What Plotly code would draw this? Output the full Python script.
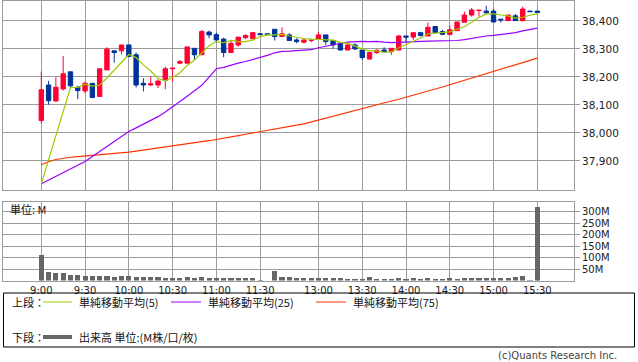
import plotly.graph_objects as go

# ---------------- data ----------------
tick_slots = [0, 6, 12, 18, 24, 30, 38, 44, 50, 56, 62, 68]
tick_labels = ["9:00", "9:30", "10:00", "10:30", "11:00", "11:30",
               "13:00", "13:30", "14:00", "14:30", "15:00", "15:30"]

slots = list(range(69))

opens = [38044, 38171, 38114, 38157, 38218, 38163, 38150, 38177, 38130, 38225,
         38293, 38293, 38314, 38279, 38177, 38171, 38171, 38188, 38229, 38249,
         38249, 38302, 38279, 38360, 38351, 38335, 38287, 38314, 38340, 38336,
         38354, 38354, 38370, 38344, 38350, 38332, 38324, 38330, 38335, 38350,
         38330, 38320, 38296, 38314, 38296, 38264, 38287, 38296, 38290, 38296,
         38346, 38342, 38358, 38346, 38380, 38362, 38351, 38365, 38395, 38421,
         38437, 38435, 38435, 38406, 38401, 38418, 38401, 38435, 38435]
highs = [38219, 38186, 38199, 38275, 38218, 38168, 38183, 38177, 38229, 38306,
         38293, 38314, 38314, 38287, 38195, 38201, 38192, 38237, 38231, 38261,
         38307, 38302, 38368, 38365, 38358, 38340, 38332, 38342, 38352, 38358,
         38354, 38354, 38370, 38377, 38356, 38338, 38332, 38331, 38361, 38350,
         38332, 38323, 38320, 38320, 38296, 38290, 38299, 38306, 38302, 38350,
         38346, 38358, 38358, 38394, 38380, 38368, 38383, 38396, 38433, 38446,
         38438, 38454, 38442, 38406, 38421, 38425, 38451, 38435, 38435]
lows = [38034, 38101, 38111, 38151, 38163, 38121, 38142, 38126, 38130, 38225,
        38251, 38281, 38273, 38162, 38148, 38168, 38160, 38156, 38183, 38246,
        38249, 38261, 38279, 38338, 38323, 38270, 38287, 38308, 38335, 38336,
        38351, 38351, 38330, 38344, 38330, 38320, 38319, 38323, 38335, 38314,
        38301, 38294, 38296, 38296, 38261, 38261, 38282, 38287, 38279, 38296,
        38323, 38332, 38344, 38346, 38358, 38349, 38351, 38365, 38395, 38415,
        38415, 38425, 38396, 38394, 38401, 38401, 38398, 38433, 38430]
closes = [38154, 38115, 38163, 38211, 38168, 38151, 38177, 38126, 38229, 38299,
          38287, 38314, 38273, 38171, 38171, 38175, 38185, 38229, 38231, 38255,
          38307, 38279, 38362, 38350, 38332, 38287, 38320, 38342, 38348, 38358,
          38351, 38351, 38344, 38354, 38330, 38326, 38332, 38331, 38350, 38326,
          38314, 38296, 38314, 38300, 38269, 38287, 38295, 38290, 38302, 38346,
          38342, 38358, 38348, 38377, 38358, 38352, 38368, 38396, 38421, 38439,
          38438, 38429, 38396, 38404, 38421, 38401, 38442, 38433, 38430]

ma5 = [37818, 37904, 37990, 38076, 38162, 38162, 38174, 38167, 38170, 38196,
       38224, 38251, 38280, 38269, 38243, 38221, 38195, 38186, 38198, 38215,
       38241, 38260, 38287, 38311, 38326, 38322, 38330, 38326, 38326, 38331,
       38344, 38350, 38350, 38352, 38346, 38341, 38337, 38335, 38334, 38333,
       38331, 38323, 38320, 38310, 38299, 38293, 38293, 38288, 38289, 38304,
       38315, 38328, 38339, 38354, 38357, 38359, 38361, 38370, 38379, 38395,
       38412, 38425, 38425, 38421, 38418, 38410, 38413, 38420, 38425]
ma25 = [37818, 37831, 37844, 37858, 37871, 37885, 37898, 37916, 37934, 37952,
        37970, 37988, 38005, 38018, 38031, 38044, 38058, 38075, 38092, 38112,
        38131, 38150, 38170, 38199, 38229, 38234, 38242, 38249, 38255, 38262,
        38270, 38277, 38286, 38291, 38292, 38294, 38295, 38297, 38304, 38310,
        38316, 38320, 38324, 38326, 38327, 38326, 38327, 38324, 38322, 38323,
        38325, 38326, 38327, 38328, 38328, 38328, 38328, 38330, 38333, 38338,
        38342, 38346, 38348, 38351, 38354, 38358, 38364, 38369, 38374]
ma75 = [37886, 37897, 37905, 37910, 37913, 37915, 37917, 37919, 37922, 37924,
        37926, 37928, 37931, 37935, 37939, 37943, 37947, 37951, 37955, 37958,
        37962, 37965, 37969, 37972, 37976, 37980, 37985, 37990, 37995, 38000,
        38005, 38010, 38014, 38019, 38023, 38028, 38032, 38039, 38046, 38053,
        38060, 38067, 38074, 38081, 38088, 38094, 38101, 38107, 38114, 38120,
        38127, 38134, 38141, 38149, 38156, 38164, 38172, 38180, 38189, 38197,
        38205, 38213, 38221, 38229, 38236, 38244, 38252, 38259, 38267]

volume_m = [111, 37, 33, 33, 24, 24, 20, 20, 20, 20,
            15, 20, 20, 15, 15, 15, 15, 11, 11, 11,
            15, 11, 15, 11, 11, 11, 11, 11, 11, 11,
            2, 0, 41, 15, 15, 11, 10, 10, 10, 10,
            10, 10, 7, 7, 7, 14, 7, 7, 7, 10,
            7, 10, 7, 10, 7, 7, 10, 7, 10, 10,
            10, 10, 10, 10, 10, 14, 19, 2, 321]

price_ticks = [37900, 38000, 38100, 38200, 38300, 38400]
vol_ticks = [50, 100, 150, 200, 250, 300]
vol_tick_text = ["50M", "100M", "150M", "200M", "250M", "300M"]

# ---------------- figure ----------------
W, H = 638, 362
def px(x):
    return x / W
def py(y):
    return 1 - y / H

GRID = "#9c9c9c"
NUMFONT = "DejaVu Sans"
JPFONT = "Noto Sans CJK JP"

fig = go.Figure()

fig.add_trace(go.Candlestick(
    x=slots, open=opens, high=highs, low=lows, close=closes,
    increasing=dict(line=dict(color="#ff0033", width=1), fillcolor="#ff0033"),
    decreasing=dict(line=dict(color="#003399", width=1), fillcolor="#003399"),
    whiskerwidth=0, xaxis="x", yaxis="y", showlegend=False, hoverinfo="skip"))

for vals, col in [(ma75, "#ff3300"), (ma25, "#9900ff"), (ma5, "#99cc00")]:
    fig.add_trace(go.Scatter(x=slots, y=vals, mode="lines",
                             line=dict(color=col, width=1.2),
                             xaxis="x", yaxis="y", showlegend=False, hoverinfo="skip"))

fig.add_trace(go.Bar(x=slots, y=volume_m, width=0.7, marker=dict(color="#666666", line=dict(width=0)),
                     xaxis="x2", yaxis="y2", showlegend=False, hoverinfo="skip"))

xr = [-5.25, 73.03]
xdom = [px(3), px(574)]
common_x = dict(range=xr, domain=xdom, tickmode="array", tickvals=tick_slots,
                showgrid=True, gridcolor=GRID, gridwidth=1, zeroline=False,
                showline=True, linecolor=GRID, linewidth=1, mirror=True, fixedrange=True)

fig.update_layout(
    width=W, height=H, margin=dict(l=0, r=0, t=0, b=0),
    paper_bgcolor="white", plot_bgcolor="white",
    boxgap=0.2, boxgroupgap=0.25,
    bargap=0,
    xaxis=dict(**common_x, ticktext=[""] * len(tick_slots), showticklabels=False,
               rangeslider=dict(visible=False), anchor="y"),
    yaxis=dict(domain=[py(190), py(1)], range=[37796, 38471], side="right",
               tickmode="array", tickvals=price_ticks, tickformat=",d",
               showgrid=True, gridcolor=GRID, gridwidth=1, zeroline=False,
               showline=True, linecolor=GRID, linewidth=1, mirror=True,
               ticks="outside", ticklen=5, tickcolor=GRID,
               tickfont=dict(family=NUMFONT, size=10.5, color="#222222"),
               anchor="x", fixedrange=True),
    xaxis2=dict(**common_x, ticktext=tick_labels, showticklabels=True,
                tickfont=dict(family=NUMFONT, size=10, color="#222222"),
                anchor="y2"),
    yaxis2=dict(domain=[py(280.5), py(202)], range=[0, 343], side="right",
                tickmode="array", tickvals=vol_ticks, ticktext=vol_tick_text,
                showgrid=True, gridcolor=GRID, gridwidth=1, zeroline=False,
                showline=True, linecolor=GRID, linewidth=1, mirror=True,
                ticks="outside", ticklen=5, tickcolor=GRID,
                tickfont=dict(family=NUMFONT, size=10, color="#222222"),
                anchor="x2", fixedrange=True),
)

shapes = []
annotations = []

# volume unit label
annotations.append(dict(x=px(8), y=py(209), xref="paper", yref="paper", xanchor="left",
                        yanchor="middle", text="単位: M", showarrow=False,
                        font=dict(family=JPFONT, size=11, color="#111111")))

# legend box
shapes.append(dict(type="rect", xref="paper", yref="paper",
                   x0=px(3.5), x1=px(634.5), y0=py(347), y1=py(293),
                   line=dict(color="#000000", width=1), fillcolor="rgba(0,0,0,0)"))

row1, row2 = 302, 337
annotations.append(dict(x=px(10), y=py(row1), xref="paper", yref="paper", xanchor="left",
                        yanchor="middle", text="上段：", showarrow=False,
                        font=dict(family=JPFONT, size=11, color="#111111")))
annotations.append(dict(x=px(10), y=py(row2), xref="paper", yref="paper", xanchor="left",
                        yanchor="middle", text="下段：", showarrow=False,
                        font=dict(family=JPFONT, size=11, color="#111111")))

legend_items = [(43, 72, "#99cc00", "単純移動平均(5)"),
                (171, 201, "#9900ff", "単純移動平均(25)"),
                (316, 346, "#ff3300", "単純移動平均(75)")]
for x0, x1, col, txt in legend_items:
    shapes.append(dict(type="line", xref="paper", yref="paper",
                       x0=px(x0), x1=px(x1), y0=py(row1), y1=py(row1),
                       line=dict(color=col, width=1)))
    annotations.append(dict(x=px(x1 + 5), y=py(row1), xref="paper", yref="paper",
                            xanchor="left", yanchor="middle", text=txt, showarrow=False,
                            font=dict(family=JPFONT, size=11, color="#111111")))

shapes.append(dict(type="line", xref="paper", yref="paper",
                   x0=px(43), x1=px(72), y0=py(row2), y1=py(row2),
                   line=dict(color="#666666", width=4)))
annotations.append(dict(x=px(77), y=py(row2), xref="paper", yref="paper",
                        xanchor="left", yanchor="middle", text="出来高 単位:(M株/口/枚)",
                        showarrow=False, font=dict(family=JPFONT, size=11, color="#111111")))

annotations.append(dict(x=px(619), y=py(355.5), xref="paper", yref="paper",
                        xanchor="right", yanchor="middle", text="(c)Quants Research Inc.",
                        showarrow=False, font=dict(family=NUMFONT, size=10, color="#444444")))

fig.update_layout(shapes=shapes, annotations=annotations)

fig.write_html("out.html", config={"displayModeBar": False, "staticPlot": True},
               post_script="document.body.style.margin='0';document.body.style.padding='0';")
